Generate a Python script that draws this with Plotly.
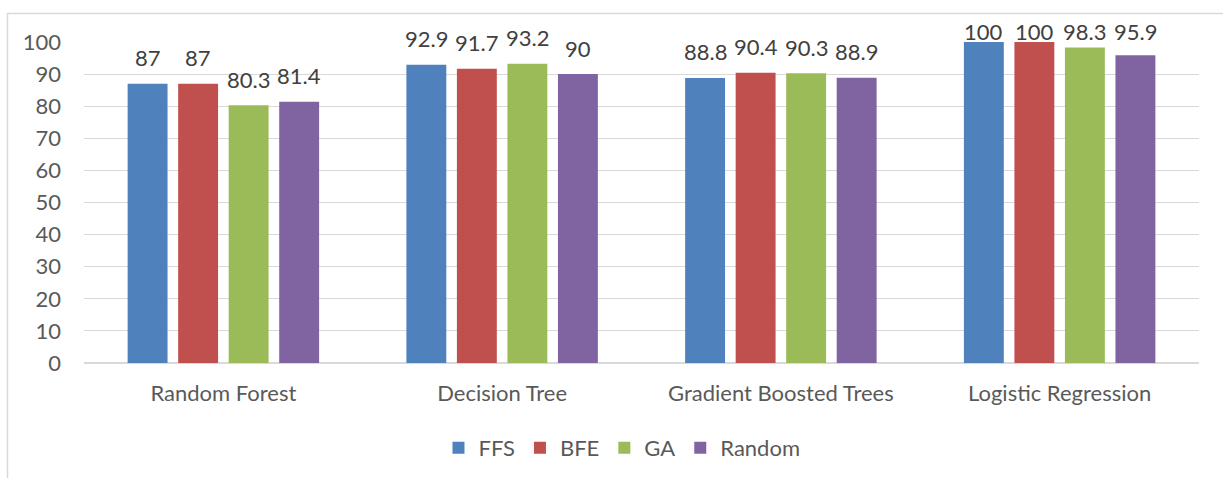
import plotly.graph_objects as go

# Classifier accuracy (%) per feature-selection method
models = ["Random Forest", "Decision Tree", "Gradient Boosted Trees", "Logistic Regression"]
methods = ["FFS", "BFE", "GA", "Random"]
ffs = [87, 92.9, 88.8, 100]
bfe = [87, 91.7, 90.4, 100]
ga = [80.3, 93.2, 90.3, 98.3]
rnd = [81.4, 90, 88.9, 95.9]
y_ticks = [0, 10, 20, 30, 40, 50, 60, 70, 80, 90, 100]

series = [ffs, bfe, ga, rnd]
colors = ["#4F81BD", "#C0504D", "#9BBB59", "#8064A2"]

FONT = "Lato"
FS = 22
W, H = 1223, 478
ML, MR, MT, MB = 84, 24, 42, 115
BARGAP, GROUPGAP = 0.275, 0.21

fig = go.Figure()
for name, vals, col in zip(methods, series, colors):
    fig.add_trace(go.Bar(
        name=name, x=models, y=vals,
        marker=dict(color=col, line=dict(width=0)),
        hoverinfo="x+y+name",
    ))

# value labels above each bar, kept inside the chart frame near the top
slot = (1 - BARGAP) / len(methods)
label_cap = 95.3
annotations = []
for k, vals in enumerate(series):
    off = (k - (len(methods) - 1) / 2) * slot
    for i, v in enumerate(vals):
        annotations.append(dict(
            x=i + off, y=min(v, label_cap), xref="x", yref="y",
            text=f"{v:g}", showarrow=False, yanchor="middle", yshift=26,
            font=dict(family=FONT, size=FS, color="#404040"),
        ))

ph = H - MT - MB
pw = W - ML - MR
fig.update_layout(
    width=W, height=H,
    margin=dict(l=ML, r=MR, t=MT, b=MB, pad=0, autoexpand=False),
    barmode="group", bargap=BARGAP, bargroupgap=GROUPGAP,
    paper_bgcolor="white", plot_bgcolor="white",
    font=dict(family=FONT, size=FS, color="#595959"),
    showlegend=True,
    legend=dict(
        orientation="h", x=0.4825, xanchor="center", y=-0.265, yanchor="middle",
        font=dict(family=FONT, size=FS, color="#595959"),
        itemclick=False, itemdoubleclick=False,
    ),
    annotations=annotations,
    shapes=[dict(
        type="rect", xref="paper", yref="paper",
        x0=(7.5 - ML) / pw, x1=(W + 20 - ML) / pw,
        y0=(MT + ph - (H + 20)) / ph, y1=(MT + ph - 13.5) / ph,
        line=dict(color="#D9D9D9", width=1.5), fillcolor="rgba(0,0,0,0)",
        layer="below",
    )],
)
fig.update_xaxes(
    showgrid=False, showline=True, linecolor="#D9D9D9", linewidth=1,
    ticks="", tickfont=dict(family=FONT, size=FS, color="#595959"),
    ticklabelstandoff=11,
)
fig.update_yaxes(
    range=[0, 100], tickvals=y_ticks, showgrid=True, gridcolor="#D9D9D9",
    gridwidth=1, zeroline=True, zerolinecolor="#D9D9D9", showline=False,
    ticks="", tickfont=dict(family=FONT, size=FS, color="#595959"),
    ticklabelstandoff=22,
)

fig.write_html("out.html")
